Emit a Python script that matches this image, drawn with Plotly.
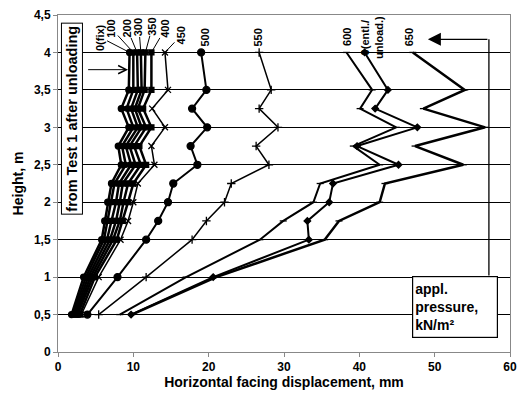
import plotly.graph_objects as go

heights = [0.5, 1.0, 1.5, 1.75, 2.0, 2.25, 2.5, 2.75, 3.0, 3.25, 3.5, 4.0]

fix0 = [1.8, 3.4, 5.8, 6.2, 6.6, 7.1, 8.4, 8.0, 9.4, 8.4, 9.4, 9.5]
p100 = [2.0, 3.7, 6.1, 6.6, 7.1, 7.5, 9.0, 8.5, 10.0, 9.1, 10.0, 10.0]
p200 = [2.2, 4.0, 6.5, 7.1, 7.7, 8.1, 9.7, 9.0, 10.6, 9.7, 10.6, 10.5]
p300 = [2.4, 4.3, 6.9, 7.7, 8.2, 8.6, 10.3, 9.5, 11.1, 10.2, 11.1, 11.0]
p350 = [2.6, 4.6, 7.3, 8.2, 8.7, 9.3, 11.0, 10.1, 11.7, 10.6, 11.5, 11.6]
p400 = [2.9, 4.9, 7.8, 8.6, 9.3, 10.0, 11.7, 10.8, 12.4, 11.3, 12.4, 12.4]
p450 = [3.1, 5.4, 8.3, 9.3, 10.0, 10.6, 12.8, 12.4, 14.2, 12.5, 14.6, 14.2]
p500 = [3.9, 7.9, 11.7, 13.3, 14.6, 15.3, 18.5, 17.6, 19.8, 17.8, 19.7, 19.0]
p550 = [5.4, 11.7, 17.8, 19.7, 22.1, 23.0, 28.0, 26.3, 29.2, 26.7, 28.3, 26.7]
p600 = [8.2, 17.0, 26.8, 29.9, 33.9, 34.8, 42.7, 39.2, 44.9, 40.1, 41.7, 38.3]
entl = [9.7, 20.6, 33.3, 33.1, 36.0, 36.5, 45.2, 39.7, 47.7, 42.1, 43.8, 40.7]
p650 = [9.8, 21.0, 35.4, 37.3, 42.7, 43.4, 53.8, 47.4, 56.7, 48.5, 54.0, 47.1]

series_names = ["0(fix)", "100", "200", "300", "350", "400", "450", "500", "550", "600",
                "0(entl./<br>unload.)", "650"]
series_values = [fix0, p100, p200, p300, p350, p400, p450, p500, p550, p600, entl, p650]
markers = ["circle", "circle", "square", "square", "square", "square", "x-thin", "circle",
           "cross-thin", "line-ew", "diamond", "line-ew"]
msizes = [6, 5, 5, 5, 5, 5, 6, 7, 6, 5, 5, 5]
lwidths = [2.5, 2.5, 2.5, 2.5, 2.5, 2.5, 1.5, 2, 1.5, 2, 2, 2.5]

y_ticks = [0, 0.5, 1, 1.5, 2, 2.5, 3, 3.5, 4, 4.5]
y_ticktext = ["0", "0,5", "1", "1,5", "2", "2,5", "3", "3,5", "4", "4,5"]
x_ticks = [0, 10, 20, 30, 40, 50, 60]

# label offsets in pixels relative to top point (text centre)
label_off = [(-29, -15), (-22, -24), (-10, -24), (-2, -25), (7, -26), (14, -24), (16, -17),
             (4, -15), (-1, -15), (1, -15), (8, -15), (-3, -15)]
label_leader = [True, True, True, True, True, True, True, False, False, False, False, False]

fig = go.Figure()
for name, vals, m, ms, lw in zip(series_names, series_values, markers, msizes, lwidths):
    fig.add_trace(go.Scatter(
        x=vals, y=heights, mode="lines+markers", name=name,
        line=dict(color="black", width=lw),
        marker=dict(symbol=m, size=ms, color="black",
                    line=dict(color="black", width=1.3)),
        showlegend=False))

bold = dict(family="Liberation Sans, Arial", size=11, color="black", weight="bold")
annotations = []
for name, vals, (ax, ay), lead in zip(series_names, series_values, label_off, label_leader):
    annotations.append(dict(
        x=vals[-1], y=heights[-1], xref="x", yref="y", text=name, textangle=-90,
        showarrow=True, ax=ax, ay=ay, arrowhead=0, arrowwidth=1,
        arrowcolor="black" if lead else "rgba(0,0,0,0)",
        font=bold, borderpad=0, standoff=0))

# boxed note
annotations.append(dict(
    x=1.9, y=3.12, xref="x", yref="y", text="from Test 1 after unloading", textangle=-90,
    showarrow=False, bordercolor="black", borderwidth=1, borderpad=2, bgcolor="white",
    font=dict(family="Liberation Sans, Arial", size=14.5, color="black", weight="bold")))
annotations.append(dict(
    x=9.3, y=3.77, xref="x", yref="y", ax=3.8, ay=3.77, axref="x", ayref="y",
    text="", showarrow=True, arrowhead=5, arrowsize=1.6, arrowwidth=1, arrowcolor="black"))

# applied pressure box
annotations.append(dict(
    x=52.7, y=0.607, xref="x", yref="y", text="appl.<br>pressure,<br>kN/m²",
    showarrow=False, align="left", width=80, height=56, bordercolor="black",
    borderwidth=1.2, borderpad=2, bgcolor="white",
    font=dict(family="Liberation Sans, Arial", size=14, color="black", weight="bold")))
annotations.append(dict(
    x=49.1, y=4.175, xref="x", yref="y", ax=57.2, ay=4.175, axref="x", ayref="y",
    text="", showarrow=True, arrowhead=2, arrowsize=2, arrowwidth=1.3, arrowcolor="black"))

shapes = [dict(type="line", xref="x", yref="y", x0=57.2, x1=57.2, y0=1.02, y1=4.175,
               line=dict(color="black", width=1.3))]

axis_title_font = dict(family="Liberation Sans, Arial", size=14, color="black", weight="bold")
tick_font = dict(family="Liberation Sans, Arial", size=12, color="black", weight="bold")

fig.update_layout(
    width=517, height=396,
    margin=dict(l=58, r=7, t=15, b=44, autoexpand=False),
    plot_bgcolor="white", paper_bgcolor="white",
    annotations=annotations, shapes=shapes,
    xaxis=dict(range=[0, 60], tickvals=x_ticks, showgrid=False, zeroline=False,
               showline=True, linecolor="#888888", linewidth=1, mirror=True,
               ticks="outside", ticklen=4, tickcolor="#888888", automargin=False,
               tickfont=tick_font,
               title=dict(text="Horizontal facing displacement, mm", standoff=2,
                          font=axis_title_font)),
    yaxis=dict(range=[0, 4.5], tickvals=y_ticks, ticktext=y_ticktext, showgrid=True,
               gridcolor="black", gridwidth=1, zeroline=False,
               showline=True, linecolor="#888888", linewidth=1, mirror=True,
               ticks="outside", ticklen=4, tickcolor="#888888", automargin=False,
               tickfont=tick_font,
               title=dict(text="Height, m", standoff=7, font=axis_title_font)),
)

fig.write_html("out.html", config={"displayModeBar": False},
               post_script="document.body.style.margin='0';document.body.style.overflow='hidden';")
